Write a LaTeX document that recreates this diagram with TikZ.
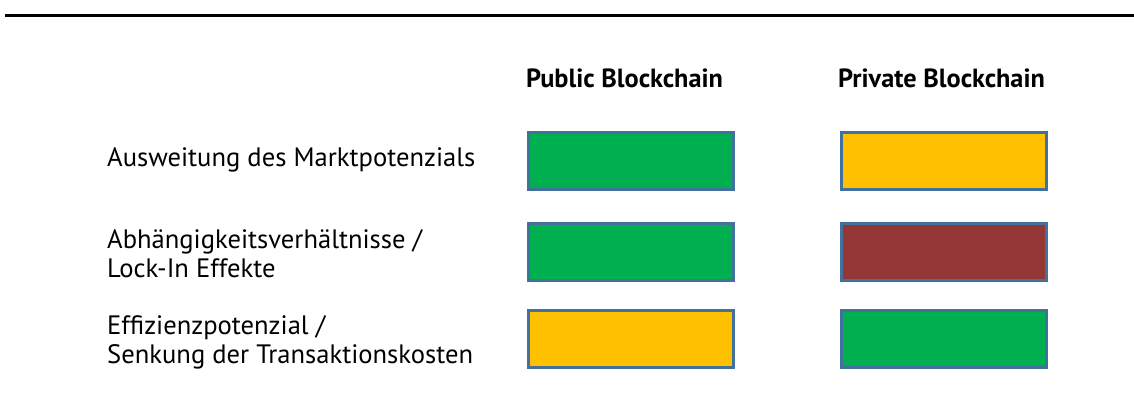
\documentclass[tikz,border=0pt]{standalone}
\usepackage{fontspec}
\setmainfont{PT Sans}
\definecolor{okgreen}{HTML}{00B050}
\definecolor{okyellow}{HTML}{FFC000}
\definecolor{okred}{HTML}{943634}
\definecolor{boxline}{HTML}{41719C}
\begin{document}
\begin{tikzpicture}[x=1pt,y=-1pt,
  cell/.style={draw=boxline,line width=2.5pt,minimum width=205pt,minimum height=57pt,inner sep=0pt,anchor=north west},
  rowlabel/.style={anchor=west,align=left,inner sep=0pt,font=\fontsize{26.6}{29}\selectfont},
  colhead/.style={anchor=center,inner sep=0pt,font=\fontsize{26.3}{30}\selectfont\bfseries}]
\useasboundingbox (0,0) rectangle (1134,410);
\coordinate (ls) at (5,15);
\coordinate (le) at (1134,15);
\draw[line width=3pt] (ls) -- (le);
\node[colhead] (h1) at (624.5,78) {Public Blockchain};
\node[colhead] (h2) at (941.5,78) {Private Blockchain};
\node[rowlabel] (l1) at (107,160) {Ausweitung des Marktpotenzials};
\node[rowlabel] (l2) at (107,254) {Abhängigkeitsverhältnisse /\\Lock-In Effekte};
\node[rowlabel] (l3) at (107,342) {Effizienzpotenzial /\\Senkung der Transaktionskosten};
\node[cell,fill=okgreen] (a1) at (527,131) {};
\node[cell,fill=okyellow] (b1) at (840,131) {};
\node[cell,fill=okgreen] (a2) at (527,222) {};
\node[cell,fill=okred] (b2) at (840,222) {};
\node[cell,fill=okyellow] (a3) at (527,309) {};
\node[cell,fill=okgreen] (b3) at (840,309) {};
\end{tikzpicture}
\end{document}
